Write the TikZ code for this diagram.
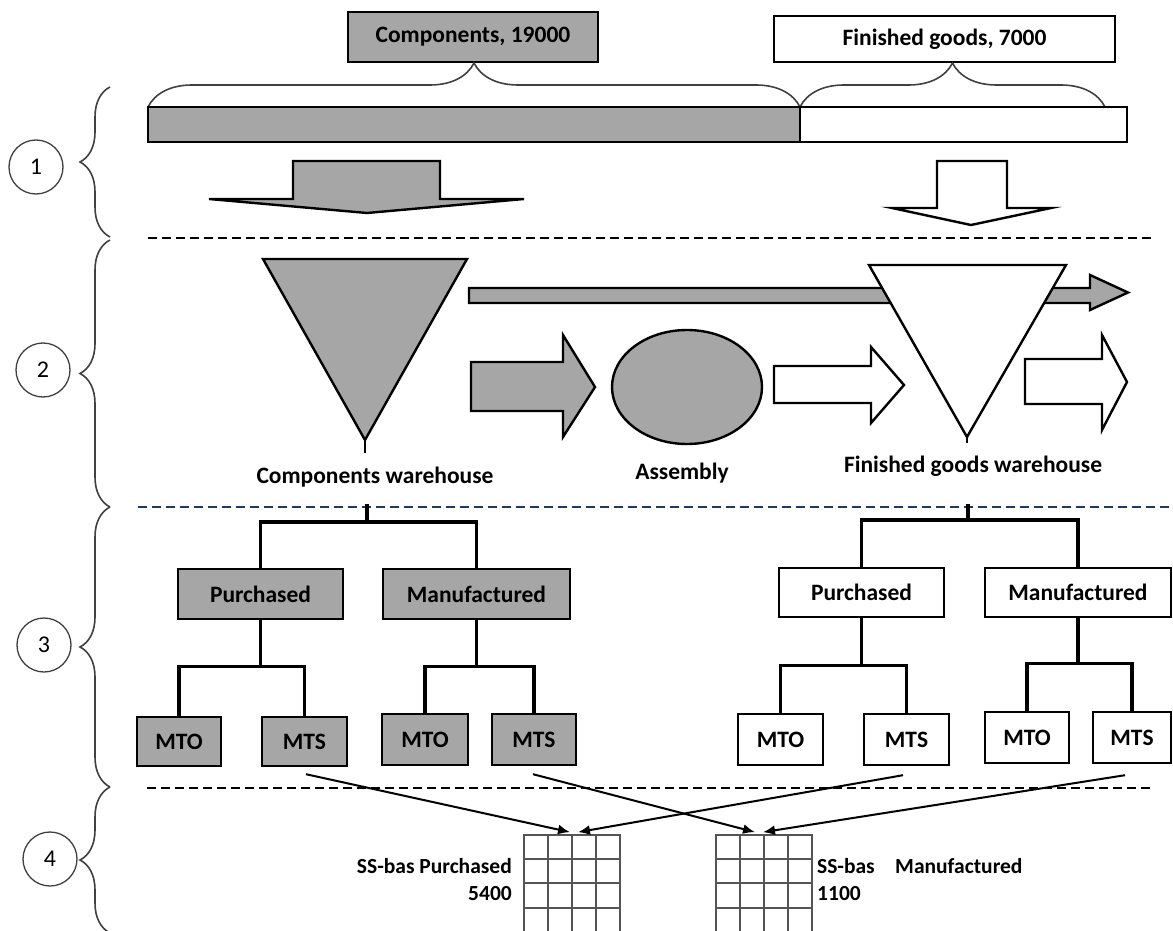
\documentclass[tikz,border=0pt]{standalone}
\usepackage{fontspec}
\setmainfont{Carlito}
\usetikzlibrary{decorations.pathreplacing,arrows.meta,calc}

\definecolor{fillgray}{RGB}{166,166,166}
\definecolor{bracegray}{RGB}{64,64,64}
\definecolor{navydash}{RGB}{31,56,100}
\definecolor{gridgray}{RGB}{85,85,85}

\begin{document}
\begin{tikzpicture}[x=1pt,y=-1pt,
  lbl/.style={font=\fontsize{23.5}{27}\selectfont\bfseries, inner sep=0pt},
  sslbl/.style={font=\fontsize{21.5}{25}\selectfont\bfseries, inner sep=0pt},
  boxbase/.style={draw=black, line width=2.4pt, rectangle, inner sep=0pt, lbl},
  gbox/.style={boxbase, fill=fillgray},
  wbox/.style={boxbase, fill=white},
  outl/.style={draw=black, line width=2.4pt, line join=miter},
  tree/.style={draw=black, line width=3.2pt},
  brc/.style={draw=bracegray, line width=1.6pt, decorate,
    decoration={brace, amplitude=#1}},
  circ/.style={circle, draw=bracegray, line width=1.3pt, minimum size=54pt,
    inner sep=0pt, font=\fontsize{24}{28}\selectfont},
  sepline/.style={line width=1.7pt, dash pattern=on 9pt off 5pt},
  link/.style={draw=black, line width=2pt, -{Latex[length=12pt,width=10pt]}},
  gridnode/.style={draw=gridgray, line width=1.7pt, minimum width=96pt,
    minimum height=98pt, inner sep=0pt},
  gridline/.style={draw=gridgray, line width=1.7pt}]

\useasboundingbox (0,0) rectangle (1173,931);
\clip (0,0) rectangle (1173,931);
\fill[white] (0,0) rectangle (1173,931);

% ---------- section markers ----------
\node[circ] (c1) at (36,167) {1};
\node[circ] (c2) at (43,370) {2};
\node[circ] (c3) at (44,645) {3};
\node[circ] (c4) at (50,859) {4};
\draw[brc=30pt] (110,237) -- (110,87);
\draw[brc=30pt] (110,507) -- (110,240);
\draw[brc=30pt] (110,787) -- (110,507);
\draw[brc=30pt] (110,933) -- (110,787);

% ---------- section separators ----------
\draw[sepline, black] (148,238) -- (1151,238);
\draw[sepline, navydash] (138,507) -- (1173,507);
\draw[sepline, black] (147,788) -- (1151,788);

% ---------- section 1: inventory split ----------
\node[gbox, minimum width=250pt, minimum height=50pt] (comp) at (473,37) {Components, 19000};
\node[wbox, minimum width=341pt, minimum height=46pt] (fin) at (944.5,39) {Finished goods, 7000};
\draw[brc=44pt] (148,107) -- (800,107);
\draw[brc=44pt] (800,107) -- (1105,107);
\draw[outl, fill=fillgray] (148,107) rectangle (800,142);
\draw[outl, fill=white] (800,107) rectangle (1127,142);

% downward block arrows
\draw[outl, fill=fillgray] (293,161) -- (440,161) -- (440,199) -- (524,199)
  -- (367,213) -- (209,199) -- (293,199) -- cycle;
\draw[outl, fill=white] (937,161) -- (1007,161) -- (1007,208) -- (1051,208)
  -- (971,225) -- (892,208) -- (937,208) -- cycle;

% ---------- section 2: flow ----------
% bypass arrow for components (runs behind the finished goods warehouse)
\draw[outl, fill=fillgray] (469,288) -- (1090,288) -- (1090,275) -- (1128,292.5)
  -- (1090,310) -- (1090,303) -- (469,303) -- cycle;

% components warehouse
\draw[outl, fill=fillgray] (263,259) -- (467,259) -- (365,440) -- cycle;
\draw[outl] (365,440) -- (365,453);
\node[lbl] (cwlbl) at (375,477) {Components warehouse};

% to assembly
\draw[outl, fill=fillgray] (471,362) -- (563,362) -- (563,335) -- (595,387)
  -- (563,437) -- (563,411) -- (471,411) -- cycle;
\draw[outl, fill=fillgray] (687,387) ellipse [x radius=75, y radius=57];
\node[lbl] (asmlbl) at (682,473) {Assembly};

% assembly to finished goods warehouse
\draw[outl, fill=white] (774,366) -- (871,366) -- (871,347) -- (904,385)
  -- (871,423) -- (871,403) -- (774,403) -- cycle;

% finished goods warehouse
\draw[outl, fill=white] (869,265) -- (1066,265) -- (967,437) -- cycle;
\draw[outl] (967,437) -- (967,443);
\node[lbl] (fglbl) at (973,466) {Finished goods warehouse};

% out of finished goods warehouse
\draw[outl, fill=white] (1025,359) -- (1102,359) -- (1102,335) -- (1127,382)
  -- (1102,430) -- (1102,404) -- (1025,404) -- cycle;

% ---------- section 3: classification trees ----------
\node[gbox, minimum width=165pt, minimum height=50pt] (purA) at (260.5,594) {Purchased};
\node[gbox, minimum width=187pt, minimum height=50pt] (manA) at (476.5,594) {Manufactured};
\node[gbox, minimum width=84pt, minimum height=49pt] (mtoA1) at (179,741.5) {MTO};
\node[gbox, minimum width=85pt, minimum height=49pt] (mtsA1) at (304.5,741.5) {MTS};
\node[gbox, minimum width=86pt, minimum height=51pt] (mtoA2) at (425,739.5) {MTO};
\node[gbox, minimum width=84pt, minimum height=51pt] (mtsA2) at (534,739.5) {MTS};

\node[wbox, minimum width=165pt, minimum height=49pt] (purB) at (861.5,592.5) {Purchased};
\node[wbox, minimum width=186pt, minimum height=49pt] (manB) at (1078,592.5) {Manufactured};
\node[wbox, minimum width=85pt, minimum height=51pt] (mtoB1) at (780.5,739.5) {MTO};
\node[wbox, minimum width=85pt, minimum height=51pt] (mtsB1) at (906.5,739.5) {MTS};
\node[wbox, minimum width=84pt, minimum height=51pt] (mtoB2) at (1027,737.5) {MTO};
\node[wbox, minimum width=78pt, minimum height=51pt] (mtsB2) at (1132,737.5) {MTS};

\coordinate (cwRoot) at (367,504);
\coordinate (cwJoin) at (367,522);
\coordinate (fgRoot) at (968,504);
\coordinate (fgJoin) at (968,520);

\draw[tree] (cwRoot) -- (cwJoin);
\draw[tree] (purA.north) |- (cwJoin) -| (manA.north);
\draw[tree] (purA.south) -- ($(purA.south)+(0,46)$) coordinate (pAj);
\draw[tree] (mtoA1.north) |- (pAj) -| (mtsA1.north);
\draw[tree] (manA.south) -- ($(manA.south)+(0,46)$) coordinate (mAj);
\draw[tree] (mtoA2.north) |- (mAj) -| (mtsA2.north);

\draw[tree] (fgRoot) -- (fgJoin);
\draw[tree] (purB.north) |- (fgJoin) -| (manB.north);
\draw[tree] (purB.south) -- ($(purB.south)+(0,47)$) coordinate (pBj);
\draw[tree] (mtoB1.north) |- (pBj) -| (mtsB1.north);
\draw[tree] (manB.south) -- ($(manB.south)+(0,45)$) coordinate (mBj);
\draw[tree] (mtoB2.north) |- (mBj) -| (mtsB2.north);

% ---------- section 4: safety stock tables ----------
\node[gridnode] (gA) at (572,884) {};
\node[gridnode] (gB) at (764,884) {};
\foreach \g in {gA,gB}{
  \foreach \dx in {-24,0,24}
    \draw[gridline] ($(\g.north)+(\dx,0)$) -- ($(\g.south)+(\dx,0)$);
  \foreach \dy in {24.5,49,73.5}
    \draw[gridline] ($(\g.north west)+(0,\dy)$) -- ($(\g.north east)+(0,\dy)$);
}

\draw[link] ($(mtsA1.south)+(1.5,7)$) -- ($(gA.north)+(-2,-2)$);
\draw[link] ($(mtsB1.south)+(-3.5,9)$) -- ($(gA.north)+(6,-2)$);
\draw[link] ($(mtsA2.south)+(-1,8)$) -- ($(gB.north)+(-9,-2)$);
\draw[link] ($(mtsB2.south)+(-7,11)$) -- ($(gB.north)+(-1,-2)$);

\node[sslbl, anchor=east] (ssA) at (512,866) {SS-bas Purchased};
\node[sslbl, anchor=east] (numA) at (512,894) {5400};
\node[sslbl, anchor=west] (ssB) at (817,866) {SS-bas};
\node[sslbl, anchor=west] (ssBm) at (895,866) {Manufactured};
\node[sslbl, anchor=west] (numB) at (817,894) {1100};

\end{tikzpicture}
\end{document}
